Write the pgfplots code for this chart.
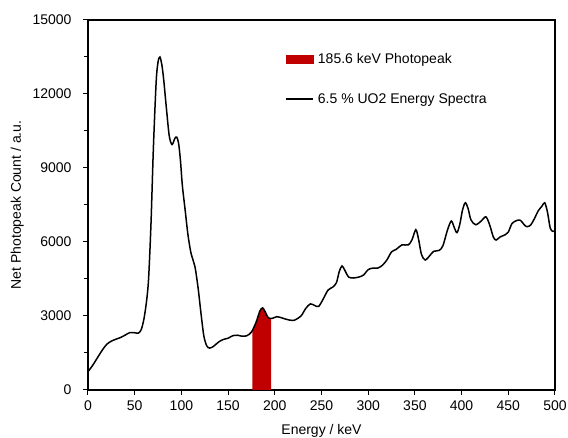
\documentclass[border=0pt]{standalone}
\usepackage{fontspec}
\setmainfont{Liberation Sans}
\usepackage{pgfplots}
\pgfplotsset{compat=1.18}
\definecolor{pkred}{RGB}{192,0,0}
\newcommand{\chfont}{\fontsize{14}{16}\selectfont}

\begin{document}
\begin{tikzpicture}
    % fixed page: 568 x 438 with the plot box at 88..555 / 20..390
    \useasboundingbox (-88pt,-48pt) rectangle (480pt,390pt);
    \begin{axis}[
        at={(0pt,0pt)}, anchor=south west,
        scale only axis,
        width=467pt, height=370pt,
        xmin=0, xmax=500,
        ymin=0, ymax=15000,
        xtick={0,50,...,500},
        ytick={0,3000,...,15000},
        scaled y ticks=false,
        minor y tick num=1,
        tick pos=left,
        tick align=outside,
        major tick length=5pt,
        minor tick length=3.5pt,
        axis line style={line width=1.1pt},
        every tick/.style={black, line width=1pt},
        /pgf/number format/1000 sep={},
        /pgf/number format/assume math mode=true,
        tick label style={font=\chfont},
        yticklabel style={xshift=-8pt},
        xticklabel style={yshift=-2pt},
        label style={font=\chfont},
        xlabel={Energy / keV},
        ylabel={Net Photopeak Count / a.u.},
        xlabel style={yshift=-7pt},
        ylabel style={yshift=2pt},
        legend style={
            font=\chfont, draw=none, fill=none,
            at={(rel axis cs:0.415,0.92)}, anchor=north west,
            row sep=24pt,
            cells={anchor=west},
        },
        clip=true,
    ]

    % 185.6 keV photopeak region
    \addplot[fill=pkred, draw=none, smooth,
        legend image code/.code={\fill[pkred] (0pt,-4.5pt) rectangle (28pt,4.5pt);}]
        coordinates {
        (176,2370) (178,2550) (180,2750) (182,3000) (184,3200) (186,3320)
        (187,3330) (189,3230) (191,3080) (193,2930) (195,2900) (196,2900)
    } \closedcycle;
    \addlegendentry{\,185.6 keV Photopeak}

    % measured spectrum
    \addplot[black, line width=1.5pt, smooth, tension=0.5,
        legend image code/.code={\draw[black, line width=1.2pt] (0pt,0pt) -- (27pt,0pt);}]
        coordinates {
        (0,740) (5,1000) (10,1300) (15,1600) (20,1850) (25,1980) (30,2060)
        (35,2130) (40,2230) (45,2330) (50,2320) (54,2310) (57,2450) (60,2900)
        (63,3700) (65,4600) (67.5,6800) (70,9800) (73,12500) (75,13300)
        (77,13500) (79,13200) (81,12600) (84,11400) (87,10300) (90,9950)
        (93,10200) (95,10250) (97,10000) (99,9300) (101,8300) (104,7300)
        (107,6300) (110,5600) (113,5200) (115,4900) (118,4100) (121,3100)
        (124,2200) (127,1800) (130,1700) (134,1760) (140,1950) (145,2050)
        (150,2100) (155,2200) (160,2220) (165,2180) (170,2200) (175,2350)
        (180,2750) (184,3200) (187,3330) (190,3150) (193,2930) (197,2900)
        (202,2970) (207,2930) (212,2870) (220,2820) (228,3000) (233,3300)
        (238,3490) (243,3420) (247,3390) (252,3700) (257,4050) (262,4170)
        (266,4350) (269,4800) (272,5030) (275,4850) (279,4580) (284,4540)
        (290,4580) (295,4660) (300,4880) (305,4940) (310,4940) (315,5050)
        (320,5270) (325,5600) (330,5700) (336,5880) (343,5880) (347,6100)
        (351,6500) (354,6100) (357,5500) (361,5270) (366,5450) (370,5620)
        (376,5660) (380,5850) (385,6500) (389,6850) (392,6600) (395,6380)
        (398,6700) (401,7300) (404,7590) (407,7350) (410,6900) (415,6700)
        (421,6850) (426,7020) (430,6700) (434,6200) (437,6080) (441,6200)
        (447,6300) (450,6400) (454,6750) (459,6870) (463,6880) (467,6700)
        (470,6620) (474,6690) (478,6950) (482,7260) (486,7450) (489,7590)
        (492,7200) (495,6550) (498,6430) (500,6450)
    };
    \addlegendentry{\,6.5 \% UO2 Energy Spectra}

    \end{axis}
\end{tikzpicture}
\end{document}
